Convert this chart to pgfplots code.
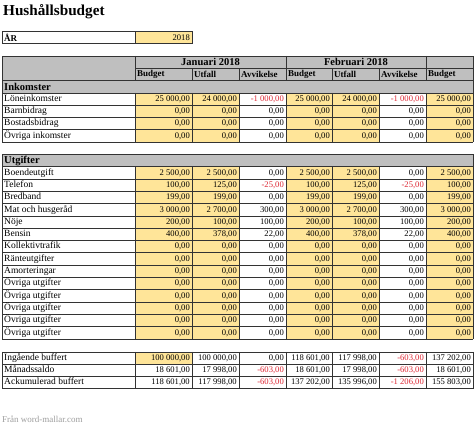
\documentclass[border=0pt]{standalone}
\usepackage{pgfplots}
\pgfplotsset{compat=1.18}
\usepackage{pgfplotstable}
\usepackage{fontspec}
\setmainfont{Liberation Serif}
\definecolor{hdr}{RGB}{191,191,191}
\definecolor{yel}{RGB}{255,229,153}
\definecolor{neg}{RGB}{222,40,52}
\tikzset{gl/.style={draw=black!80, line width=0.8pt}}
\pgfkeys{/pgf/number format/.cd, fixed, fixed zerofill, precision=2, use comma, 1000 sep={\ }, assume math mode=true}

% y = row centre; columns: Januari (Budget, Utfall, Avvikelse), Februari (Budget, Utfall, Avvikelse), Mars Budget
\pgfplotstableread{
y      jb     ju     ja    fb     fu     fa    mb
99.15  25000  24000  -1000 25000  24000  -1000 25000
111.45 0      0      0     0      0      0     0
123.75 0      0      0     0      0      0     0
136.05 0      0      0     0      0      0     0
172.95 2500   2500   0     2500   2500   0     2500
185.25 100    125    -25   100    125    -25   100
197.55 199    199    0     199    199    0     199
209.85 3000   2700   300   3000   2700   300   3000
222.15 200    100    100   200    100    100   200
234.45 400    378    22    400    378    22    400
246.75 0      0      0     0      0      0     0
259.05 0      0      0     0      0      0     0
271.35 0      0      0     0      0      0     0
283.65 0      0      0     0      0      0     0
295.95 0      0      0     0      0      0     0
308.25 0      0      0     0      0      0     0
320.55 0      0      0     0      0      0     0
332.85 0      0      0     0      0      0     0
358.15 100000 100000 0     118601 117998 -603  137202
370.45 18601  17998  -603  18601  17998  -603  18601
382.75 118601 117998 -603  137202 135996 -1206 155803
}\budgetdata

\pgfplotstableread[col sep=comma]{
y,label
99.15,Löneinkomster
111.45,Barnbidrag
123.75,Bostadsbidrag
136.05,Övriga inkomster
172.95,Boendeutgift
185.25,Telefon
197.55,Bredband
209.85,Mat och husgeråd
222.15,Nöje
234.45,Bensin
246.75,Kollektivtrafik
259.05,Ränteutgifter
271.35,Amorteringar
283.65,Övriga utgifter
295.95,Övriga utgifter
308.25,Övriga utgifter
320.55,Övriga utgifter
332.85,Övriga utgifter
358.15,Ingående buffert
370.45,Månadssaldo
382.75,Ackumulerad buffert
}\rowlabels

\pgfplotsset{
  numplot/.style={draw=none, mark=none, point meta=explicit,
    nodes near coords={\pgfmathfloatifflags{\pgfplotspointmeta}{-}{\color{neg}}{}\pgfmathprintnumber{\pgfplotspointmeta}},
    every node near coord/.append style={anchor=east, inner sep=0pt, text=black,
      font=\fontsize{8.6}{10}\selectfont, text height=6pt, text depth=1.6pt}},
}
\newcommand{\numcol}[2]{\addplot[numplot] table[x expr=#1, y=y, meta=#2] {\budgetdata};}

\begin{document}
\begin{tikzpicture}
\begin{axis}[scale only axis, width=474pt, height=427pt,
  xmin=0, xmax=474, ymin=0, ymax=427, y dir=reverse,
  hide axis, clip=false]
\fill[white] (0,0) rectangle (474,427);
% title
\node[anchor=base west, inner sep=0pt, font=\fontsize{15.2}{17}\selectfont\bfseries] at (3,16) {Hushållsbudget};
% year row
\filldraw[fill=white, gl] (2,31.5) rectangle (135,43.5);
\filldraw[fill=yel, gl] (135,31.5) rectangle (192,43.5);
\node[anchor=west, inner sep=0pt, font=\fontsize{9}{10}\selectfont\bfseries] at (4,37.5) {ÅR};
\node[anchor=east, inner sep=0pt, font=\fontsize{8.6}{10}\selectfont] at (190,37.5) {2018};
% header
\filldraw[fill=hdr, gl] (2,56) rectangle (473,80.6);
\draw[gl] (135,68.3) -- (473,68.3);
\pgfplotsinvokeforeach{135,286,426}{\draw[gl] (#1,56) -- (#1,80.6);}
\pgfplotsinvokeforeach{192,239,332,379}{\draw[gl] (#1,68.3) -- (#1,80.6);}
\node[font=\fontsize{10.5}{12}\selectfont\bfseries, inner sep=0pt] at (210.5,62.3) {Januari 2018};
\node[font=\fontsize{10.5}{12}\selectfont\bfseries, inner sep=0pt] at (356,62.3) {Februari 2018};
\pgfplotsinvokeforeach{135,286,426}{\node[anchor=west, inner sep=0pt, font=\fontsize{9}{10}\selectfont\bfseries] at (#1+2,74.6) {Budget};}
\pgfplotsinvokeforeach{192,332}{\node[anchor=west, inner sep=0pt, font=\fontsize{9}{10}\selectfont\bfseries] at (#1+2,74.6) {Utfall};}
\pgfplotsinvokeforeach{239,379}{\node[anchor=west, inner sep=0pt, font=\fontsize{9}{10}\selectfont\bfseries] at (#1+2,74.6) {Avvikelse};}
% Inkomster
\filldraw[fill=hdr, gl] (2,80.6) rectangle (473,93);
\node[anchor=west, inner sep=0pt, font=\fontsize{10.5}{12}\selectfont\bfseries] at (4,86.8) {Inkomster};
\fill[yel] (135,93) rectangle (239,142.2);
\fill[yel] (286,93) rectangle (379,142.2);
\fill[yel] (426,93) rectangle (473,142.2);
\pgfplotsinvokeforeach{93,105.3,117.6,129.9,142.2}{\draw[gl] (2,#1) -- (473,#1);}
\pgfplotsinvokeforeach{2,135,192,239,286,332,379,426,473}{\draw[gl] (#1,93) -- (#1,142.2);}
% Utgifter
\filldraw[fill=hdr, gl] (2,154.5) rectangle (473,166.8);
\node[anchor=west, inner sep=0pt, font=\fontsize{10.5}{12}\selectfont\bfseries] at (4,160.6) {Utgifter};
\fill[yel] (135,166.8) rectangle (239,339);
\fill[yel] (286,166.8) rectangle (379,339);
\fill[yel] (426,166.8) rectangle (473,339);
\pgfplotsinvokeforeach{166.8,179.1,191.4,203.7,216,228.3,240.6,252.9,265.2,277.5,289.8,302.1,314.4,326.7,339}{\draw[gl] (2,#1) -- (473,#1);}
\pgfplotsinvokeforeach{2,135,192,239,286,332,379,426,473}{\draw[gl] (#1,166.8) -- (#1,339);}
% buffer block
\fill[yel] (135,352) rectangle (192,364.3);
\pgfplotsinvokeforeach{352,364.3,376.6,388.9}{\draw[gl] (2,#1) -- (473,#1);}
\pgfplotsinvokeforeach{2,135,192,239,286,332,379,426,473}{\draw[gl] (#1,352) -- (#1,388.9);}
% footer
\node[anchor=base west, inner sep=0pt, text=black!38, font=\fontsize{9}{10}\selectfont] at (2,423) {Från word-mallar.com};
% row labels
\addplot[draw=none, mark=none, point meta=explicit symbolic,
  nodes near coords={\pgfplotspointmeta},
  every node near coord/.append style={anchor=west, inner sep=0pt, text=black,
    font=\fontsize{9.5}{11}\selectfont, text height=6.5pt, text depth=2pt}]
  table[x expr=4, y=y, meta=label, col sep=comma] {\rowlabels};
% values
\numcol{190}{jb}
\numcol{237}{ju}
\numcol{284}{ja}
\numcol{330}{fb}
\numcol{377}{fu}
\numcol{424}{fa}
\numcol{471}{mb}
\end{axis}
\end{tikzpicture}
\end{document}
